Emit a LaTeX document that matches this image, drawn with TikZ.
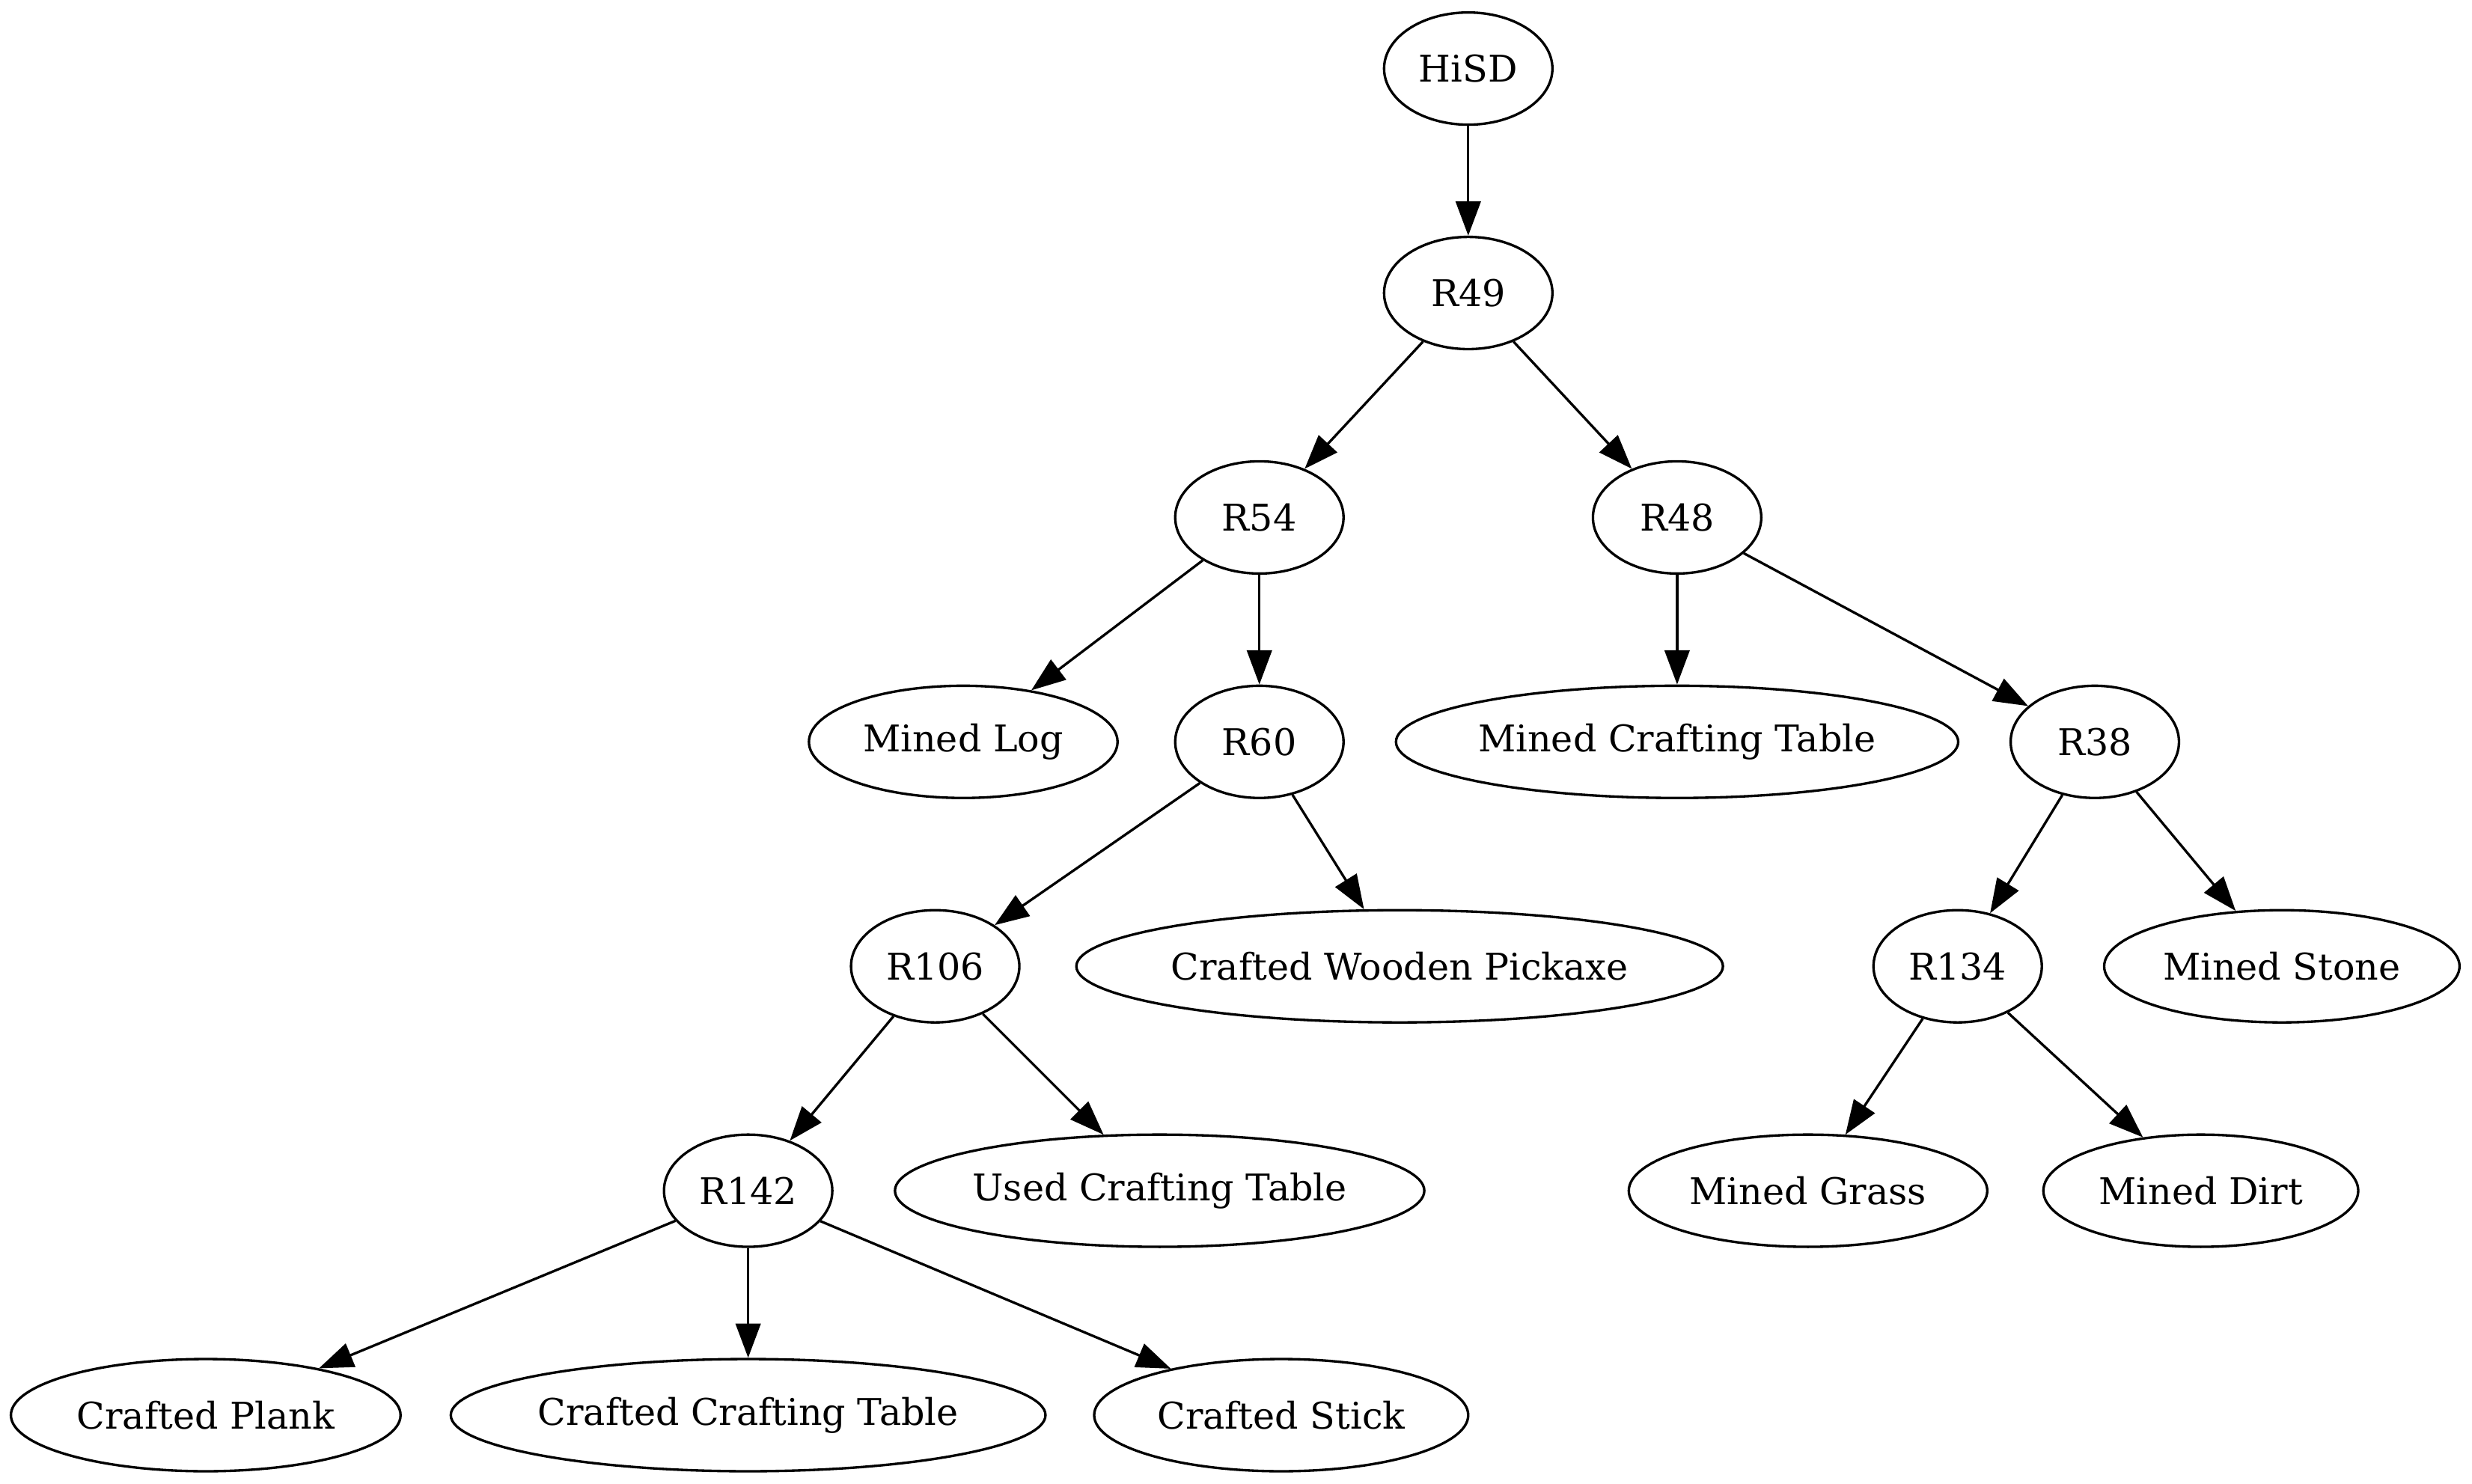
\documentclass[tikz,border=0pt]{standalone}
\usepackage{fontspec}
\setmainfont{DejaVu Serif}
\usetikzlibrary{shapes.geometric,arrows.meta}
\begin{document}
\begin{tikzpicture}[x=1pt,y=-1pt,
  gnode/.style={draw,ellipse,line width=0.8pt,inner sep=0pt,
    minimum height=36pt,minimum width=#1,
    font=\fontsize{11.8}{14}\selectfont},
  gnode/.default=54pt,
  edge/.style={draw,line width=0.8pt,-{Triangle[length=11pt,width=8pt]}}]
\useasboundingbox (0,0) rectangle (793,476);
% rank 0-1
\node[gnode] (hisd) at (471,22) {HiSD};
\node[gnode] (r49) at (471,94) {R49};
% rank 2
\node[gnode] (r54) at (404,166) {R54};
\node[gnode] (r48) at (538,166) {R48};
% rank 3
\node[gnode=99pt] (log) at (309,238) {Mined Log};
\node[gnode] (r60) at (404,238) {R60};
\node[gnode=177pt] (mct) at (538,238) {Mined Crafting Table};
\node[gnode] (r38) at (672,238) {R38};
% rank 4
\node[gnode] (r106) at (300,310) {R106};
\node[gnode=203pt] (pick) at (449,310) {Crafted Wooden Pickaxe};
\node[gnode] (r134) at (628,310) {R134};
\node[gnode=114pt] (stone) at (732,310) {Mined Stone};
% rank 5
\node[gnode] (r142) at (240,382) {R142};
\node[gnode=168pt] (uct) at (372,382) {Used Crafting Table};
\node[gnode=115pt] (grass) at (580,382) {Mined Grass};
\node[gnode=101pt] (dirt) at (706,382) {Mined Dirt};
% rank 6
\node[gnode=125pt] (plank) at (66,454) {Crafted Plank};
\node[gnode=187pt] (cct) at (240,454) {Crafted Crafting Table};
\node[gnode=120pt] (stick) at (411,454) {Crafted Stick};
% connectors
\draw[edge] (hisd) -- (r49);
\draw[edge] (r49) -- (r54);
\draw[edge] (r49) -- (r48);
\draw[edge] (r54) -- (log);
\draw[edge] (r54) -- (r60);
\draw[edge] (r48) -- (mct);
\draw[edge] (r48) -- (r38);
\draw[edge] (r60) -- (r106);
\draw[edge] (r60) -- (pick);
\draw[edge] (r38) -- (r134);
\draw[edge] (r38) -- (stone);
\draw[edge] (r106) -- (r142);
\draw[edge] (r106) -- (uct);
\draw[edge] (r134) -- (grass);
\draw[edge] (r134) -- (dirt);
\draw[edge] (r142) -- (plank);
\draw[edge] (r142) -- (cct);
\draw[edge] (r142) -- (stick);
\end{tikzpicture}
\end{document}
